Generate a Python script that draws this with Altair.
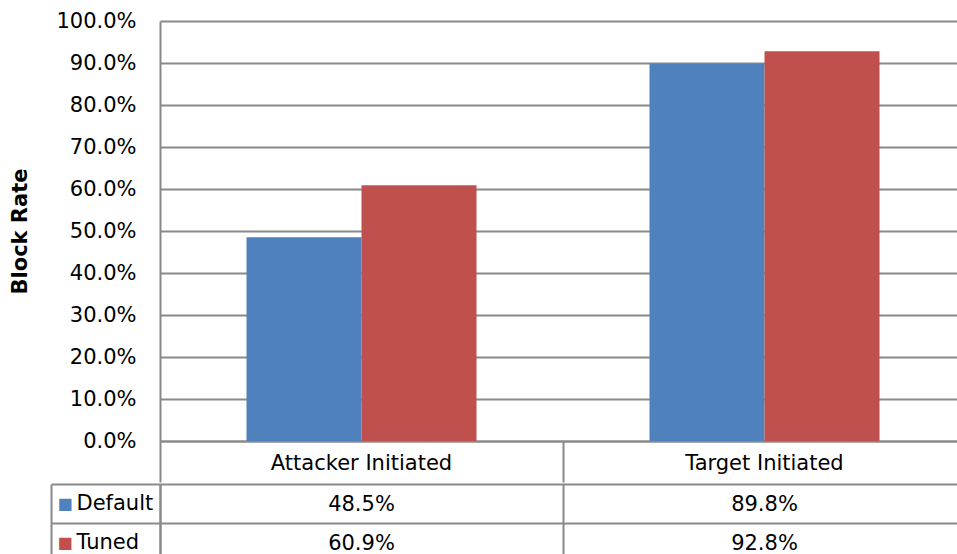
import altair as alt
import pandas as pd

# Block rates per scenario, one list per configuration
categories = ["Attacker Initiated", "Target Initiated"]
series = ["Default", "Tuned"]
default_rate = [0.485, 0.898]
tuned_rate = [0.609, 0.928]
y_ticks = [0.0, 0.1, 0.2, 0.3, 0.4, 0.5, 0.6, 0.7, 0.8, 0.9, 1.0]

colors = ["#4F81BD", "#C0504D"]
LINE = "#898989"
FONT = "DejaVu Sans"
FS = 21
PLOT_W = 806

rows = []
for i, cat in enumerate(categories):
    rows.append({"category": cat, "series": series[0], "rate": default_rate[i]})
    rows.append({"category": cat, "series": series[1], "rate": tuned_rate[i]})
df = pd.DataFrame(rows)

x_scale = alt.Scale(type="band", domain=categories, paddingInner=0, paddingOuter=0)
color_scale = alt.Scale(domain=series, range=colors)

bars = alt.Chart(df).mark_bar().encode(
    x=alt.X(
        "category:N", sort=categories, scale=x_scale,
        axis=alt.Axis(
            title=None, orient="bottom", labelAngle=0,
            domain=True, domainColor=LINE, domainWidth=2,
            ticks=True, tickSize=41, tickColor=LINE, tickWidth=2, bandPosition=0,
            grid=False, labelFont=FONT, labelFontSize=FS, labelColor="black",
            labelBaseline="middle", labelPadding=-19, labelLimit=0,
        ),
    ),
    xOffset=alt.XOffset(
        "series:N", sort=series,
        scale=alt.Scale(paddingInner=0, paddingOuter=0.752),
    ),
    y=alt.Y(
        "rate:Q", scale=alt.Scale(domain=[0, 1], nice=False),
        axis=alt.Axis(
            values=y_ticks, format=".1%", title="Block Rate",
            titleFont=FONT, titleFontSize=FS, titleFontWeight="bold", titleColor="black",
            titleX=-140, titleY=210, titleAlign="center", titleBaseline="middle",
            domain=True, domainColor=LINE, domainWidth=2,
            ticks=False, grid=True, gridColor=LINE, gridWidth=2,
            labelFont=FONT, labelFontSize=FS, labelColor="black", labelPadding=24,
        ),
    ),
    color=alt.Color("series:N", scale=color_scale, legend=None),
).properties(width=PLOT_W, height=420)

# data table rows under the plot
row_scale = alt.Scale(type="band", domain=series, paddingInner=0, paddingOuter=0)

table_values = alt.Chart(df).mark_text(font=FONT, fontSize=FS, color="black", dy=1).encode(
    x=alt.X(
        "category:N", sort=categories, scale=x_scale,
        axis=alt.Axis(
            title=None, labels=False, ticks=False, domain=False,
            grid=True, gridColor=LINE, gridWidth=2, bandPosition=0,
        ),
    ),
    y=alt.Y(
        "series:N", sort=series, scale=row_scale,
        axis=alt.Axis(
            title=None, orient="left",
            domain=True, domainColor=LINE, domainWidth=2,
            ticks=True, tickSize=109, tickColor=LINE, tickWidth=2, bandPosition=0,
            grid=True, gridColor=LINE, gridWidth=2,
            labelAlign="left", labelPadding=-25, labelFont=FONT, labelFontSize=FS,
            labelColor="black", labelLimit=0,
        ),
    ),
    text=alt.Text("rate:Q", format=".1%"),
)

# legend keys and the outer left border of the table
table_keys = alt.Chart(df).mark_text().encode(
    y=alt.Y(
        "series:N", sort=series, scale=row_scale,
        axis=alt.Axis(
            title=None, orient="left", offset=109,
            domain=True, domainColor=LINE, domainWidth=2,
            ticks=False, tickSize=0, grid=False,
            labelExpr="'\u25a0'", labelAlign="left", labelPadding=-6,
            labelFont=FONT, labelFontSize=16,
            labelColor={"condition": {"test": "datum.value === 'Default'", "value": colors[0]},
                        "value": colors[1]},
        ),
    ),
    text=alt.value(""),
)

table = alt.layer(table_values, table_keys).resolve_axis(y="independent").properties(
    width=PLOT_W, height=78
)

# the sheet is cropped on the right and bottom edges
chart = alt.vconcat(bars, table, spacing=0).properties(
    padding={"left": 9, "top": 10, "right": -9, "bottom": -8}
).configure_view(stroke=None)

chart.save("out.html", embed_options={"renderer": "svg", "actions": False})
